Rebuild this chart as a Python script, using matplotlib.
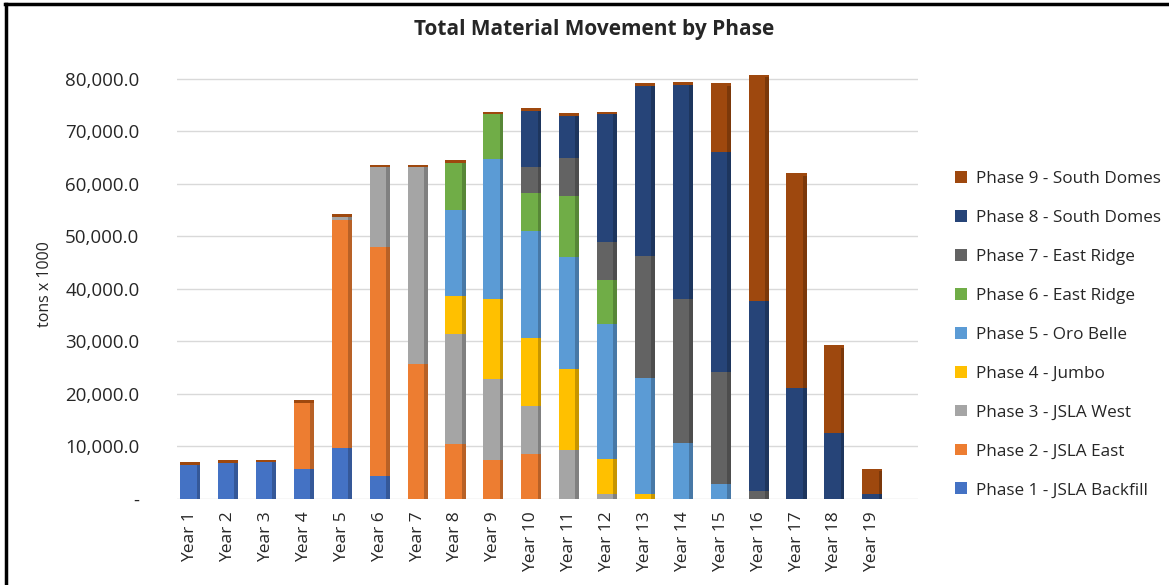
import numpy as np
import matplotlib
matplotlib.use("Agg")
import matplotlib.pyplot as plt
from matplotlib.patches import Patch
from matplotlib.lines import Line2D
from matplotlib.ticker import FuncFormatter

# ── data (tons x 1000) ───────────────────────────────────────────────────────
years = [f"Year {i}" for i in range(1, 20)]

phase1 = [6500, 6900, 7000, 5700, 9800, 4400, 0, 0, 0, 0, 0, 0, 0, 0, 0, 0, 0, 0, 0]
phase2 = [0, 0, 0, 12600, 43300, 43500, 25700, 10400, 7400, 8500, 0, 0, 0, 0, 0, 0, 0, 0, 0]
phase3 = [0, 0, 0, 0, 700, 15300, 37500, 21100, 15400, 9200, 9300, 900, 0, 0, 0, 0, 0, 0, 0]
phase4 = [0, 0, 0, 0, 0, 0, 0, 7200, 15200, 13000, 15400, 6700, 900, 0, 0, 0, 0, 0, 0]
phase5 = [0, 0, 0, 0, 0, 0, 0, 16300, 26800, 20300, 21300, 25800, 22200, 10700, 2800, 0, 0, 0, 0]
phase6 = [0, 0, 0, 0, 0, 0, 0, 9000, 8500, 7300, 11700, 8400, 0, 0, 0, 0, 0, 0, 0]
phase7 = [0, 0, 0, 0, 0, 0, 0, 0, 0, 4900, 7200, 7200, 23200, 27300, 21300, 1500, 0, 0, 0]
phase8 = [0, 0, 0, 0, 0, 0, 0, 0, 0, 10700, 8100, 24300, 32400, 40900, 41900, 36200, 21100, 12600, 900]
phase9 = [0, 0, 0, 0, 0, 0, 0, 0, 0, 0, 0, 0, 0, 0, 12700, 42600, 40400, 16200, 4400]

phase_names = ["Phase 1 - JSLA Backfill", "Phase 2 - JSLA East", "Phase 3 - JSLA West",
               "Phase 4 - Jumbo", "Phase 5 - Oro Belle", "Phase 6 - East Ridge",
               "Phase 7 - East Ridge", "Phase 8 - South Domes", "Phase 9 - South Domes"]
phase_values = [phase1, phase2, phase3, phase4, phase5, phase6, phase7, phase8, phase9]

# ── palette (Office theme) ───────────────────────────────────────────────────
COLORS = ["#4472C4", "#ED7D31", "#A5A5A5", "#FFC000", "#5B9BD5",
          "#70AD47", "#636363", "#264478", "#9E480E"]
GRID = "#d9d9d9"
TXT = "#262626"

plt.rcParams["font.family"] = ["Open Sans", "DejaVu Sans"]

fig = plt.figure(figsize=(11.69, 5.85), dpi=100, facecolor="white")
ax = fig.add_axes([0.1514, 0.147, 0.6337, 0.736])

x = np.arange(len(years))
width = 0.53
bottom = np.zeros(len(years))
for vals, col in zip(phase_values, COLORS):
    vals = np.array(vals, dtype=float)
    ax.bar(x, vals, width, bottom=bottom, color=col, edgecolor="none", zorder=2)
    # darker side face to hint at the 3-D columns
    ax.bar(x + width / 2 - 0.05, vals, 0.1, bottom=bottom, color="black",
           alpha=0.22, edgecolor="none", zorder=3)
    bottom += vals

# top caps (Excel draws the last series' top face)
ax.bar(x, np.full(len(years), 500), width, bottom=bottom, color=COLORS[-1],
       edgecolor="none", zorder=4)

ax.set_xlim(-0.35, 19.2)
ax.set_ylim(0, 82000)
ax.set_yticks(np.arange(0, 80001, 10000))
ax.yaxis.set_major_formatter(FuncFormatter(lambda v, p: "-" if v == 0 else f"{v:,.1f}"))
ax.grid(axis="y", color=GRID, linewidth=1.0, zorder=0)
for s in ax.spines.values():
    s.set_visible(False)
ax.tick_params(length=0)
ax.tick_params(axis="y", labelsize=13.5, colors=TXT, pad=27)
ax.set_xticks(x)
ax.set_xticklabels(years, rotation=90, fontsize=12.5, color=TXT)
ax.tick_params(axis="x", pad=9)
ax.set_ylabel("tons x 1000", fontsize=11.5, color=TXT, labelpad=9)

fig.text(0.508, 0.949, "Total Material Movement by Phase", ha="center", va="center",
         fontsize=15, fontweight="bold", color=TXT)

handles = [Patch(facecolor=c, edgecolor="none") for c in COLORS][::-1]
labels = phase_names[::-1]
leg = fig.legend(handles, labels, loc="upper left", bbox_to_anchor=(0.811, 0.720),
                 frameon=False, fontsize=12.3, labelspacing=1.345, handlelength=0.7,
                 handleheight=0.7, handletextpad=0.55, borderaxespad=0)
for t in leg.get_texts():
    t.set_color(TXT)

# frame lines of the cropped screenshot
fig.add_artist(Line2D([0.004, 1.0], [0.994, 0.994], color="black", lw=2.5,
                      transform=fig.transFigure))
fig.add_artist(Line2D([0.005, 0.005], [0.0, 0.994], color="black", lw=2.5,
                      transform=fig.transFigure))

fig.savefig("out.png", dpi=100, facecolor="white")
